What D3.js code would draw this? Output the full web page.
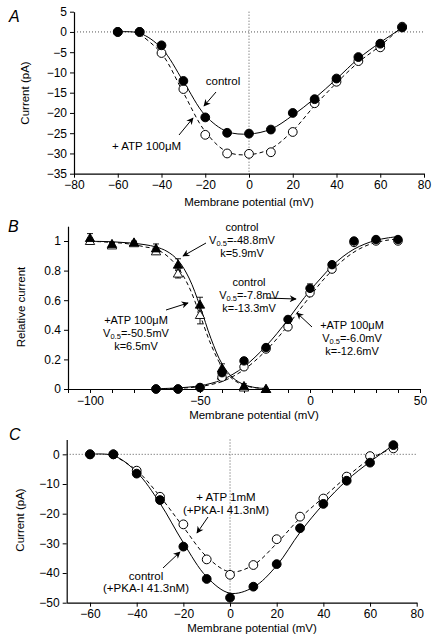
<!DOCTYPE html>
<html>
<head>
<meta charset="utf-8">
<script src="https://cdn.jsdelivr.net/npm/d3@7"></script>
<style>
  html, body { margin: 0; padding: 0; background: #fff; }
  svg { display: block; font-family: "Liberation Sans", Arial, Helvetica, sans-serif; }
</style>
</head>
<body>
<svg id="chart" width="434" height="644"></svg>
<script>
// ---------- Panel A data ----------
const aVolt = [-60, -50, -40, -30, -20, -10, 0, 10, 20, 30, 40, 50, 60, 70];
const aControl = [0, 0, -3.3, -12.1, -21.1, -24.9, -25.1, -24.1, -20, -16.6, -11.5, -6.2, -2.9, 1.1];
const aAtp = [0, 0, -5.2, -14.1, -25.4, -30, -30.1, -29.7, -24.7, -17.6, -12.3, -7.2, -3.8, 1.3];
const aControlFit = [0, -0.3, -4, -12.2, -20.6, -24.6, -25.2, -24, -20.6, -16.4, -11.6, -6.6, -2.6, 1.0];
const aAtpFit = [0, -0.5, -5.3, -15, -24.6, -29.6, -30.3, -28.8, -24.4, -18.2, -12.6, -7.5, -3.4, 1.3];
const aXTicks = [-80, -60, -40, -20, 0, 20, 40, 60, 80];
const aYTicks = [5, 0, -5, -10, -15, -20, -25, -30, -35];

// ---------- Panel B data ----------
const bInactVolt = [-100, -90, -80, -70, -60, -50, -40, -30, -20];
const bInactControl = [1.02, 0.98, 0.99, 0.95, 0.84, 0.57, 0.14, 0.02, 0];
const bInactControlErr = [0.03, 0.01, 0.01, 0.03, 0.04, 0.05, 0.03, 0.015, 0];
const bInactAtp = [1.0, 0.97, 0.985, 0.93, 0.78, 0.50, 0.09, 0.01, 0];
const bInactAtpErr = [0.02, 0.01, 0.01, 0.02, 0.03, 0.06, 0.03, 0.01, 0];
const bActVolt = [-70, -60, -50, -40, -30, -20, -10, 0, 10, 20, 30, 40];
const bActControl = [0, 0, 0.01, 0.11, 0.19, 0.28, 0.47, 0.68, 0.84, 1.0, 1.01, 1.01];
const bActControlErr = [0, 0, 0.01, 0.02, 0.02, 0.02, 0.02, 0.03, 0.02, 0.01, 0.01, 0.01];
const bActAtp = [0, 0, 0.01, 0.08, 0.15, 0.27, 0.42, 0.65, 0.81, 0.99, 1.0, 1.0];
const bActAtpErr = [0, 0, 0.01, 0.02, 0.02, 0.02, 0.02, 0.02, 0.02, 0.01, 0.01, 0.01];
const bInactFitVolt = [-100, -95, -90, -85, -80, -75, -70, -65, -60, -55, -50, -45, -40, -35, -30, -25, -20];
const bInactControlFit = [0.998, 0.997, 0.995, 0.99, 0.985, 0.975, 0.96, 0.93, 0.87, 0.75, 0.56, 0.34, 0.17, 0.075, 0.03, 0.01, 0.003];
const bInactAtpFit = [0.997, 0.995, 0.99, 0.985, 0.975, 0.96, 0.945, 0.9, 0.82, 0.69, 0.5, 0.3, 0.15, 0.065, 0.025, 0.009, 0.003];
const bActFitVolt = [-70, -65, -60, -55, -50, -45, -40, -35, -30, -25, -20, -15, -10, -5, 0, 5, 10, 15, 20, 25, 30, 35, 40];
const bActControlFit = [0.002, 0.004, 0.007, 0.013, 0.022, 0.038, 0.062, 0.1, 0.15, 0.215, 0.29, 0.375, 0.47, 0.57, 0.665, 0.75, 0.83, 0.895, 0.945, 0.98, 1.005, 1.02, 1.03];
const bActAtpFit = [0.001, 0.003, 0.005, 0.009, 0.016, 0.03, 0.05, 0.085, 0.13, 0.19, 0.26, 0.34, 0.43, 0.53, 0.625, 0.72, 0.8, 0.87, 0.925, 0.965, 0.99, 1.005, 1.015];
const bXLabels = [-100, -50, 0, 50];
const bXTicks = [-110, -100, -90, -80, -70, -60, -50, -40, -30, -20, -10, 0, 10, 20, 30, 40, 50];
const bYTicks = [0, 0.2, 0.4, 0.6, 0.8, 1];

// ---------- Panel C data ----------
const cVolt = [-60, -50, -40, -30, -20, -10, 0, 10, 20, 30, 40, 50, 60, 70];
const cControl = [0, 0, -6.5, -15.4, -31.1, -42, -48.3, -44.6, -37, -24.9, -16.7, -8.9, -2.8, 3.1];
const cAtp = [0, 0, -5.5, -14.3, -23.6, -35.4, -40.6, -37.3, -28.6, -21, -14.9, -7.5, -0.6, 2.0];
const cControlFit = [0, -0.4, -6, -16.5, -29.8, -41.3, -46.8, -44.8, -37.5, -26.3, -16.8, -8.8, -2.5, 3.1];
const cAtpFit = [0, -0.3, -5.4, -14.2, -24.5, -34.5, -39.6, -37.3, -30, -21.5, -14.5, -7.6, -1.6, 2.2];
const cXTicks = [-60, -40, -20, 0, 20, 40, 60, 80];
const cYTicks = [0, -10, -20, -30, -40, -50];

// ---------- drawing ----------
const svg = d3.select("#chart");
const defs = svg.append("defs");
defs.append("marker").attr("id", "arrow")
  .attr("viewBox", "0 0 10 10").attr("refX", 9).attr("refY", 5)
  .attr("markerWidth", 9).attr("markerHeight", 7).attr("markerUnits", "userSpaceOnUse")
  .attr("orient", "auto")
  .append("path").attr("d", "M0,0 L10,5 L0,10 L3,5 Z").attr("fill", "#000");

const DASH = "4,3";
const tickFont = 12;
const titleFont = 11.5;
const noteFont = 11.5;
const bNoteFont = 11;

function styleAxis(g) {
  g.selectAll("path.domain").attr("stroke", "#000").attr("stroke-width", 1.2);
  g.selectAll(".tick line").attr("stroke", "#000").attr("stroke-width", 1);
  g.selectAll(".tick text").attr("font-size", tickFont).attr("fill", "#000")
    .attr("font-family", "'Liberation Sans', Arial, sans-serif");
}

function drawAxes(x, y, opts) {
  const xa = d3.axisBottom(x).tickValues(opts.xTicks).tickSize(4).tickSizeOuter(0).tickPadding(3)
    .tickFormat(d => opts.xLabels.includes(d) ? d3.format("")(d) : "");
  const gx = svg.append("g").attr("transform", `translate(0,${y.range()[0]})`).call(xa);
  styleAxis(gx);
  const ya = d3.axisLeft(y).tickValues(opts.yTicks).tickSize(4).tickSizeOuter(0).tickPadding(3)
    .tickFormat(opts.yFormat);
  const gy = svg.append("g").attr("transform", `translate(${x.range()[0]},0)`).call(ya);
  styleAxis(gy);
  svg.append("text").attr("x", opts.xTitlePos[0]).attr("y", opts.xTitlePos[1])
    .attr("text-anchor", "middle").attr("font-size", titleFont).text("Membrane potential (mV)");
  svg.append("text").attr("transform", `translate(${opts.yTitlePos[0]},${opts.yTitlePos[1]}) rotate(-90)`)
    .attr("text-anchor", "middle").attr("font-size", titleFont).text(opts.yTitle);
  svg.append("text").attr("x", opts.letterPos[0]).attr("y", opts.letterPos[1])
    .attr("font-size", 16).attr("font-style", "italic").text(opts.letter);
}

function drawCurve(x, y, xs, ys, dashed) {
  const line = d3.line().x((d, i) => x(xs[i])).y(d => y(d)).curve(d3.curveCatmullRom.alpha(0.5));
  svg.append("path").attr("d", line(ys)).attr("fill", "none").attr("stroke", "#000")
    .attr("stroke-width", 1).attr("stroke-dasharray", dashed ? DASH : null);
}

function drawCircles(x, y, xs, ys, filled, r) {
  svg.append("g").selectAll("circle").data(ys).join("circle")
    .attr("cx", (d, i) => x(xs[i])).attr("cy", d => y(d)).attr("r", r || 4.4)
    .attr("fill", filled ? "#000" : "#fff").attr("stroke", "#000").attr("stroke-width", 1);
}

function drawTriangles(x, y, xs, ys, filled) {
  const sym = d3.symbol().type(d3.symbolTriangle).size(38);
  svg.append("g").selectAll("path").data(ys).join("path")
    .attr("transform", (d, i) => `translate(${x(xs[i])},${y(d) + 0.8})`).attr("d", sym())
    .attr("fill", filled ? "#000" : "#fff").attr("stroke", "#000").attr("stroke-width", 0.9);
}

function drawErrors(x, y, xs, ys, errs) {
  const g = svg.append("g").attr("stroke", "#000").attr("stroke-width", 0.9);
  ys.forEach((v, i) => {
    if (!errs[i]) return;
    const cx = x(xs[i]), y1 = y(v + errs[i]), y2 = y(v - errs[i]);
    g.append("line").attr("x1", cx).attr("x2", cx).attr("y1", y1).attr("y2", y2);
    g.append("line").attr("x1", cx - 3).attr("x2", cx + 3).attr("y1", y1).attr("y2", y1);
    g.append("line").attr("x1", cx - 3).attr("x2", cx + 3).attr("y1", y2).attr("y2", y2);
  });
}

function arrow(x1, y1, x2, y2) {
  svg.append("line").attr("x1", x1).attr("y1", y1).attr("x2", x2).attr("y2", y2)
    .attr("stroke", "#000").attr("stroke-width", 1).attr("marker-end", "url(#arrow)");
}

function label(lines, cx, y0, dy, fs) {
  lines.forEach((ln, i) => {
    const t = svg.append("text").attr("x", cx).attr("y", y0 + i * dy)
      .attr("text-anchor", "middle").attr("font-size", fs || noteFont);
    if (Array.isArray(ln)) {
      t.append("tspan").text(ln[0]);
      t.append("tspan").attr("dy", 2).attr("font-size", 7.5).text(ln[1]);
      t.append("tspan").attr("dy", -2).text(ln[2]);
    } else t.text(ln);
  });
}

function dotted(x1, y1, x2, y2) {
  svg.append("line").attr("x1", x1).attr("y1", y1).attr("x2", x2).attr("y2", y2)
    .attr("stroke", "#555").attr("stroke-width", 1).attr("stroke-dasharray", "1,2");
}

// ===== Panel A =====
{
  const x = d3.scaleLinear().domain([-80, 80]).range([74, 424]);
  const y = d3.scaleLinear().domain([-35, 5]).range([173.7, 11.7]);
  dotted(x(-80), y(0), x(80), y(0));
  dotted(x(0), y(5), x(0), y(-35));
  drawAxes(x, y, {
    xTicks: aXTicks, xLabels: aXTicks, yTicks: aYTicks, yFormat: d3.format(""),
    xTitlePos: [249, 206], yTitlePos: [29, 93], yTitle: "Current (pA)",
    letter: "A", letterPos: [9, 22]
  });
  drawCurve(x, y, aVolt, aControlFit, false);
  drawCurve(x, y, aVolt.slice(1), aAtpFit.slice(1), true);
  drawCircles(x, y, aVolt, aAtp, false);
  drawCircles(x, y, aVolt, aControl, true);
  label(["control"], 223, 85, 12);
  arrow(216, 92, 204, 106);
  svg.append("text").attr("x", 112).attr("y", 150).attr("font-size", noteFont).text("+ ATP 100\u03BCM");
  arrow(179, 135, 193, 118);
}

// ===== Panel B =====
{
  const x = d3.scaleLinear().domain([-110, 50]).range([68, 420]);
  const y = d3.scaleLinear().domain([0, 1.1]).range([389, 226.2]);
  drawAxes(x, y, {
    xTicks: bXTicks, xLabels: bXLabels, yTicks: bYTicks, yFormat: d3.format(""),
    xTitlePos: [254, 419], yTitlePos: [25, 307], yTitle: "Relative current",
    letter: "B", letterPos: [8, 232]
  });
  drawCurve(x, y, bInactFitVolt, bInactControlFit, false);
  drawCurve(x, y, bInactFitVolt, bInactAtpFit, true);
  drawCurve(x, y, bActFitVolt, bActControlFit, false);
  drawCurve(x, y, bActFitVolt, bActAtpFit, true);
  drawErrors(x, y, bInactVolt, bInactAtp, bInactAtpErr);
  drawErrors(x, y, bInactVolt, bInactControl, bInactControlErr);
  drawErrors(x, y, bActVolt, bActAtp, bActAtpErr);
  drawErrors(x, y, bActVolt, bActControl, bActControlErr);
  drawTriangles(x, y, bInactVolt, bInactAtp, false);
  drawTriangles(x, y, bInactVolt, bInactControl, true);
  drawCircles(x, y, bActVolt, bActAtp, false, 4.2);
  drawCircles(x, y, bActVolt, bActControl, true, 4.2);

  label(["control", ["V", "0.5", "=-48.8mV"], "k=5.9mV"], 242, 231, 13, bNoteFont);
  arrow(206, 243, 183, 256);
  label(["control", ["V", "0.5", "=-7.8mV"], "k=-13.3mV"], 249, 286, 13, bNoteFont);
  arrow(267, 298, 296, 299);
  label(["+ATP 100\u03BCM", ["V", "0.5", "=-50.5mV"], "k=6.5mV"], 136, 324, 13, bNoteFont);
  arrow(166, 310, 188, 303);
  label(["+ATP 100\u03BCM", ["V", "0.5", "=-6.0mV"], "k=-12.6mV"], 352, 329, 13, bNoteFont);
  arrow(312, 327, 297, 313);
}

// ===== Panel C =====
{
  const x = d3.scaleLinear().domain([-70, 80]).range([66.7, 416.7]);
  const y = d3.scaleLinear().domain([-50, 5]).range([602.7, 439.5]);
  dotted(x(-70), y(0), x(80), y(0));
  dotted(x(0), y(5), x(0), y(-50));
  drawAxes(x, y, {
    xTicks: cXTicks, xLabels: cXTicks, yTicks: cYTicks, yFormat: d3.format(""),
    xTitlePos: [252, 632], yTitlePos: [24, 520], yTitle: "Current (pA)",
    letter: "C", letterPos: [9, 440]
  });
  drawCurve(x, y, cVolt, cControlFit, false);
  drawCurve(x, y, cVolt.slice(1), cAtpFit.slice(1), true);
  drawCircles(x, y, cVolt, cAtp, false);
  drawCircles(x, y, cVolt, cControl, true);
  label(["+ ATP 1mM", "(+PKA-I 41.3nM)"], 226, 501, 12.5);
  arrow(208, 517, 197, 533);
  label(["control", "(+PKA-I 41.3nM)"], 146, 580, 12);
  arrow(163, 568, 180, 552);
}
</script>
</body>
</html>
